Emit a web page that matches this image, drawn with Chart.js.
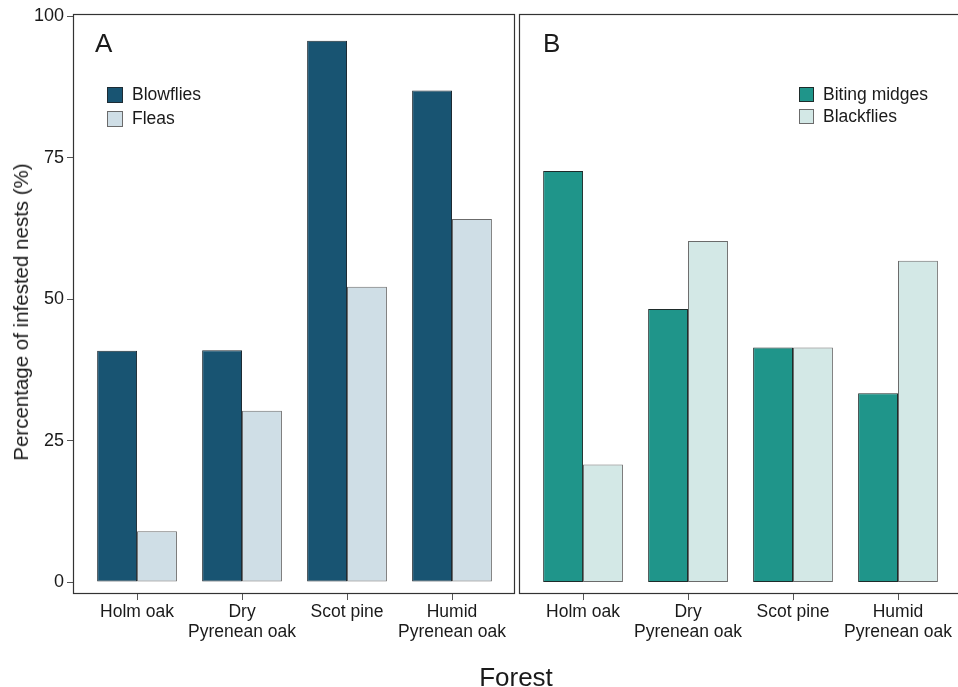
<!DOCTYPE html>
<html>
<head>
<meta charset="utf-8">
<script src="https://cdn.jsdelivr.net/npm/chart.js@4.4.1/dist/chart.umd.min.js"></script>
<style>
  html, body { margin: 0; padding: 0; background: #fff; width: 958px; height: 687px; overflow: hidden; }
  #wrap { position: relative; width: 958px; height: 687px; overflow: hidden; }
  canvas { position: absolute; top: 0; }
  #cA { left: 0; }
  #cB { left: 517px; }
  .title { position: absolute; font-family: "Liberation Sans", Arial, sans-serif; color: #1a1a1a; white-space: nowrap; }
  #ytitle { font-size: 20.5px; left: 21px; top: 312px; transform: translate(-50%, -50%) rotate(-90deg); }
  #xtitle { font-size: 26px; left: 516px; top: 677px; transform: translate(-50%, -50%); }
</style>
</head>
<body>
<div id="wrap">
  <canvas id="cA" width="517" height="687"></canvas>
  <canvas id="cB" width="446" height="687"></canvas>
  <div class="title" id="ytitle">Percentage of infested nests (%)</div>
  <div class="title" id="xtitle">Forest</div>
</div>
<script>
// ---- data ----
const categories = ['Holm oak', ['Dry', 'Pyrenean oak'], 'Scot pine', ['Humid', 'Pyrenean oak']];
const categoryPositions = [1, 2, 3, 4];
const blowflies = [40.9, 41.0, 95.7, 86.9];
const fleas = [9.0, 30.3, 52.2, 64.2];
const bitingMidges = [72.7, 48.3, 41.5, 33.4];
const blackflies = [20.8, 60.3, 41.5, 56.8];
const yTickValues = [0, 25, 50, 75, 100];
const panelTags = ['A', 'B'];

const FONT = '"Liberation Sans", Arial, sans-serif';
Chart.defaults.font.family = FONT;
Chart.defaults.color = '#1a1a1a';

function pts(vals) { return vals.map((v, i) => ({ x: categoryPositions[i], y: v })); }

const frameAndLegend = {
  id: 'frameAndLegend',
  afterDraw(chart, args, opts) {
    const ctx = chart.ctx, a = chart.chartArea;
    ctx.save();
    ctx.strokeStyle = '#333';
    ctx.lineWidth = 1.2;
    ctx.strokeRect(a.left + 0.5, a.top + 0.5, a.right - a.left - 1, a.bottom - a.top - 1);
    ctx.fillStyle = '#1a1a1a';
    ctx.font = '26px ' + FONT;
    ctx.textBaseline = 'alphabetic';
    ctx.textAlign = 'left';
    ctx.fillText(opts.tag, opts.tagX, opts.tagY);
    ctx.font = '17.5px ' + FONT;
    ctx.textBaseline = 'middle';
    chart.data.datasets.forEach((ds, i) => {
      const y = opts.legY + i * opts.legStep;
      ctx.fillStyle = ds.backgroundColor;
      ctx.fillRect(opts.legX, y, opts.box, opts.box);
      ctx.strokeStyle = ds.borderColor;
      ctx.lineWidth = 1;
      ctx.strokeRect(opts.legX + 0.5, y + 0.5, opts.box - 1, opts.box - 1);
      ctx.fillStyle = '#1a1a1a';
      ctx.fillText(ds.label, opts.legX + opts.box + 9, y + opts.box / 2 + 0.5);
    });
    ctx.restore();
  }
};

function makeOptions(showY, pluginOpts, padding) {
  return {
    responsive: false,
    animation: false,
    devicePixelRatio: 1,
    layout: { padding: padding },
    datasets: { bar: { categoryPercentage: 0.76, barPercentage: 1.0, borderWidth: 1, borderSkipped: false } },
    plugins: {
      legend: { display: false },
      tooltip: { enabled: false },
      frameAndLegend: pluginOpts
    },
    scales: {
      x: {
        type: 'linear',
        min: 0.39,
        max: 4.6,
        offset: false,
        afterBuildTicks: (s) => { s.ticks = categoryPositions.map(v => ({ value: v })); },
        afterFit: (s) => { s.height = 93; s.paddingLeft = 0; s.paddingRight = 0; },
        grid: { display: true, offset: false, drawOnChartArea: false, drawTicks: true, tickLength: 6, color: '#555', lineWidth: 1 },
        border: { display: false },
        ticks: {
          font: { size: 17.5, lineHeight: 1.15 },
          color: '#1a1a1a',
          padding: 2,
          maxRotation: 0,
          autoSkip: false,
          callback: (v) => categories[categoryPositions.indexOf(v)]
        }
      },
      y: {
        display: showY,
        min: -2.1,
        max: 100.44,
        afterBuildTicks: (s) => { s.ticks = yTickValues.map(v => ({ value: v })); },
        afterFit: (s) => { s.width = showY ? 73 : 0; },
        grid: { display: true, drawOnChartArea: false, drawTicks: true, tickLength: 6, color: '#555', lineWidth: 1 },
        border: { display: false },
        ticks: { font: { size: 18 }, color: '#1a1a1a', padding: 3 }
      }
    }
  };
}

new Chart(document.getElementById('cA'), {
  type: 'bar',
  data: {
    datasets: [
      { label: 'Blowflies', data: pts(blowflies), backgroundColor: '#185472', borderColor: '#1e2b33' },
      { label: 'Fleas', data: pts(fleas), backgroundColor: '#cfdee6', borderColor: '#6b6b6b' }
    ]
  },
  options: makeOptions(true,
    { tag: panelTags[0], tagX: 95, tagY: 52, legX: 107, legY: 87, legStep: 24, box: 16 },
    { top: 14, right: 2, left: 0, bottom: 0 }),
  plugins: [frameAndLegend]
});

new Chart(document.getElementById('cB'), {
  type: 'bar',
  data: {
    datasets: [
      { label: 'Biting midges', data: pts(bitingMidges), backgroundColor: '#1f958a', borderColor: '#1e2b2a' },
      { label: 'Blackflies', data: pts(blackflies), backgroundColor: '#d3e8e6', borderColor: '#6b6b6b' }
    ]
  },
  options: makeOptions(false,
    { tag: panelTags[1], tagX: 26, tagY: 52, legX: 282, legY: 87, legStep: 22, box: 15 },
    { top: 14, right: 2, left: 2, bottom: 0 }),
  plugins: [frameAndLegend]
});
</script>
</body>
</html>
